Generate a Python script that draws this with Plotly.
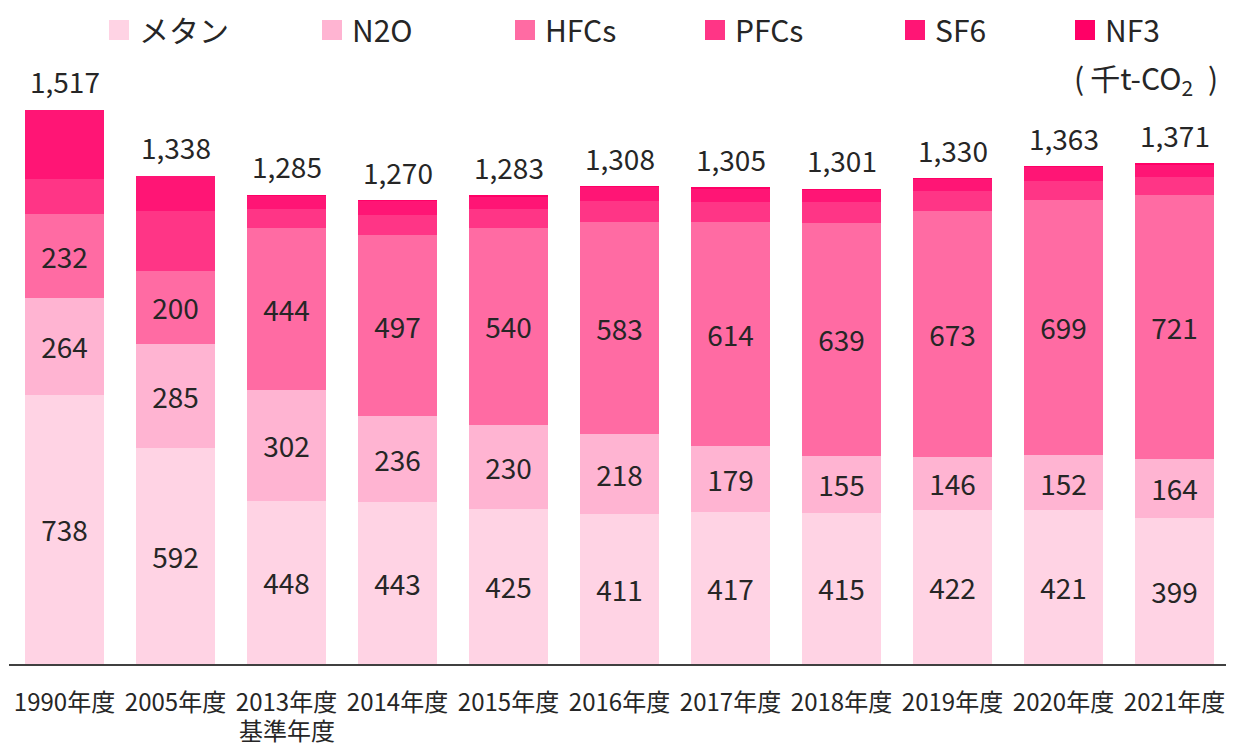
import plotly.graph_objects as go

categories = ["1990年度", "2005年度", "2013年度", "2014年度", "2015年度", "2016年度",
              "2017年度", "2018年度", "2019年度", "2020年度", "2021年度"]
base_year_note = "基準年度"
methane = [738, 592, 448, 443, 425, 411, 417, 415, 422, 421, 399]
n2o = [264, 285, 302, 236, 230, 218, 179, 155, 146, 152, 164]
hfcs = [232, 200, 444, 497, 540, 583, 614, 639, 673, 699, 721]
pfcs = [94, 163, 52, 53, 52, 57, 55, 56, 54, 52, 50]
sf6 = [189, 98, 38, 40, 35, 38, 39, 35, 34, 38, 36]
nf3 = [0, 0, 1, 1, 1, 1, 1, 1, 1, 1, 1]
totals = [1517, 1338, 1285, 1270, 1283, 1308, 1305, 1301, 1330, 1363, 1371]

FONT = "Noto Sans CJK JP"
TXT = "#262626"
W, H = 1226, 739  # page body has an 8px margin

series = [
    ("メタン", methane, "#FFD3E4", True),
    ("N2O", n2o, "#FFB4D2", True),
    ("HFCs", hfcs, "#FF6BA3", True),
    ("PFCs", pfcs, "#FF3586", False),
    ("SF6", sf6, "#FF1575", False),
    ("NF3", nf3, "#FF0066", False),
]
legend_left_px = [91, 304, 497, 687, 887, 1057]

fig = go.Figure()
for i, (name, vals, color, lab) in enumerate(series):
    fig.add_trace(go.Bar(
        x=categories, y=vals, name=name, showlegend=False,
        marker=dict(color=color, line=dict(width=0)),
        text=[f"{v}" for v in vals] if lab else None,
        textposition="inside" if lab else "none",
        insidetextanchor="middle",
        textfont=dict(family=FONT, size=28, color=TXT),
        constraintext="none",
        hoverinfo="skip",
    ))
for i, (name, vals, color, lab) in enumerate(series):
    lg = "legend" if i == 0 else f"legend{i+1}"
    fig.add_trace(go.Scatter(
        x=[None], y=[None], mode="markers", name=name, legend=lg,
        marker=dict(symbol="square", size=16, color=color,
                    line=dict(width=4, color=color)),
        hoverinfo="skip",
    ))
    fig.update_layout({lg: dict(
        orientation="h", xref="container", yref="container",
        x=legend_left_px[i] / W, xanchor="left",
        y=1 - 22 / H, yanchor="middle",
        bgcolor="rgba(0,0,0,0)",
        font=dict(family=FONT, size=30, color=TXT),
    )})

for c, t in zip(categories, totals):
    fig.add_annotation(x=c, y=t, text=f"{t:,}", showarrow=False, yanchor="bottom",
                       yshift=7, font=dict(family=FONT, size=28, color=TXT))

fig.add_annotation(x=categories[2], yref="paper", y=(656 - 721) / 604, text=base_year_note,
                   showarrow=False, yanchor="middle", borderpad=0,
                   font=dict(family=FONT, size=24, color=TXT))

fig.add_annotation(xref="paper", yref="paper", x=(1212 - 1) / 1221, y=(656 - 70) / 604,
                   text="(\u2009千t-CO<sub>2</sub>\u2002)",
                   showarrow=False, xanchor="right", yanchor="middle",
                   font=dict(family=FONT, size=30, color=TXT))

fig.update_layout(
    width=W, height=H,
    barmode="stack", bargap=0.28,
    margin=dict(l=1, r=4, t=52, b=83, autoexpand=False),
    paper_bgcolor="white", plot_bgcolor="white",
    font=dict(family=FONT, color=TXT),
    showlegend=True,
)
fig.update_xaxes(showline=True, linecolor="#404040", linewidth=1.5, ticks="",
                 tickfont=dict(family=FONT, size=24, color=TXT), ticklabelstandoff=16)
fig.update_yaxes(visible=False, range=[0, 1655])

fig.write_html("out.html")
